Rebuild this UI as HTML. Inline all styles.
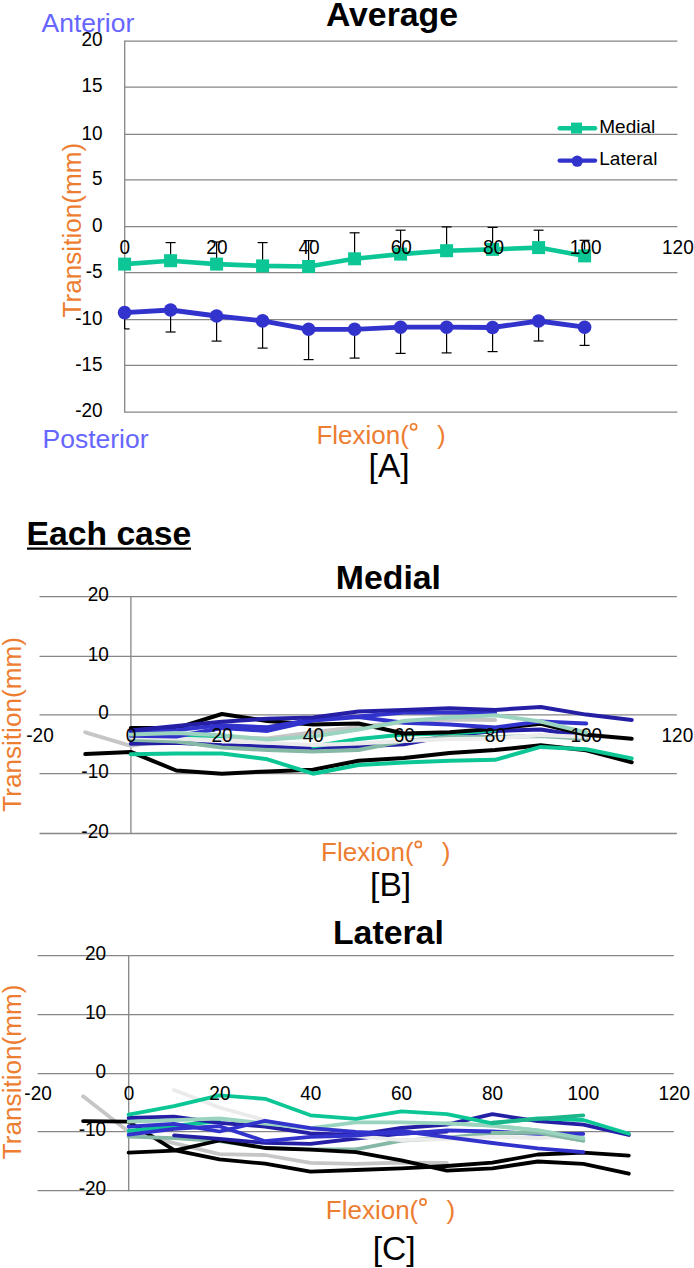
<!DOCTYPE html>
<html><head><meta charset="utf-8"><title>Figure</title>
<style>
html,body{margin:0;padding:0;background:#fff;}
body{width:694px;height:1268px;overflow:hidden;font-family:"Liberation Sans",sans-serif;}
svg{display:block;}
text{font-family:"Liberation Sans",sans-serif;}
</style></head><body>
<svg width="694" height="1268" viewBox="0 0 694 1268">
<rect x="0" y="0" width="694" height="1268" fill="#ffffff"/>
<line x1="124.7" y1="41.1" x2="677.4" y2="41.1" stroke="#868686" stroke-width="1.3"/>
<line x1="124.7" y1="87.1" x2="677.4" y2="87.1" stroke="#868686" stroke-width="1.3"/>
<line x1="124.7" y1="134.3" x2="677.4" y2="134.3" stroke="#868686" stroke-width="1.3"/>
<line x1="124.7" y1="179.9" x2="677.4" y2="179.9" stroke="#868686" stroke-width="1.3"/>
<line x1="124.7" y1="226.6" x2="677.4" y2="226.6" stroke="#868686" stroke-width="1.3"/>
<line x1="124.7" y1="272.6" x2="677.4" y2="272.6" stroke="#868686" stroke-width="1.3"/>
<line x1="124.7" y1="319.7" x2="677.4" y2="319.7" stroke="#868686" stroke-width="1.3"/>
<line x1="124.7" y1="365.4" x2="677.4" y2="365.4" stroke="#868686" stroke-width="1.3"/>
<line x1="124.7" y1="412.1" x2="677.4" y2="412.1" stroke="#868686" stroke-width="1.3"/>
<line x1="124.7" y1="40.5" x2="124.7" y2="412.70000000000005" stroke="#868686" stroke-width="1.3"/>
<text transform="translate(102.6 46.3) scale(1 1.075)" font-size="19" fill="#000" text-anchor="end">20</text>
<text transform="translate(102.6 92.3) scale(1 1.075)" font-size="19" fill="#000" text-anchor="end">15</text>
<text transform="translate(102.6 139.5) scale(1 1.075)" font-size="19" fill="#000" text-anchor="end">10</text>
<text transform="translate(102.6 185.1) scale(1 1.075)" font-size="19" fill="#000" text-anchor="end">5</text>
<text transform="translate(102.6 231.8) scale(1 1.075)" font-size="19" fill="#000" text-anchor="end">0</text>
<text transform="translate(102.6 277.8) scale(1 1.075)" font-size="19" fill="#000" text-anchor="end">-5</text>
<text transform="translate(102.6 324.9) scale(1 1.075)" font-size="19" fill="#000" text-anchor="end">-10</text>
<text transform="translate(102.6 370.6) scale(1 1.075)" font-size="19" fill="#000" text-anchor="end">-15</text>
<text transform="translate(102.6 417.3) scale(1 1.075)" font-size="19" fill="#000" text-anchor="end">-20</text>
<line x1="124.6" y1="312.6" x2="124.6" y2="328.9" stroke="#000" stroke-width="1.2"/>
<line x1="124.7" y1="328.9" x2="129.6" y2="328.9" stroke="#000" stroke-width="1.2"/>
<line x1="170.6" y1="260.7" x2="170.6" y2="242.6" stroke="#000" stroke-width="1.2"/>
<line x1="165.6" y1="242.6" x2="175.6" y2="242.6" stroke="#000" stroke-width="1.2"/>
<line x1="170.6" y1="310.0" x2="170.6" y2="332.0" stroke="#000" stroke-width="1.2"/>
<line x1="165.6" y1="332.0" x2="175.6" y2="332.0" stroke="#000" stroke-width="1.2"/>
<line x1="216.6" y1="264.1" x2="216.6" y2="242.0" stroke="#000" stroke-width="1.2"/>
<line x1="211.6" y1="242.0" x2="221.6" y2="242.0" stroke="#000" stroke-width="1.2"/>
<line x1="216.6" y1="316.0" x2="216.6" y2="341.1" stroke="#000" stroke-width="1.2"/>
<line x1="211.6" y1="341.1" x2="221.6" y2="341.1" stroke="#000" stroke-width="1.2"/>
<line x1="262.6" y1="265.9" x2="262.6" y2="242.6" stroke="#000" stroke-width="1.2"/>
<line x1="257.6" y1="242.6" x2="267.6" y2="242.6" stroke="#000" stroke-width="1.2"/>
<line x1="262.6" y1="320.9" x2="262.6" y2="348.1" stroke="#000" stroke-width="1.2"/>
<line x1="257.6" y1="348.1" x2="267.6" y2="348.1" stroke="#000" stroke-width="1.2"/>
<line x1="308.6" y1="266.5" x2="308.6" y2="240.6" stroke="#000" stroke-width="1.2"/>
<line x1="303.6" y1="240.6" x2="313.6" y2="240.6" stroke="#000" stroke-width="1.2"/>
<line x1="308.6" y1="329.3" x2="308.6" y2="359.6" stroke="#000" stroke-width="1.2"/>
<line x1="303.6" y1="359.6" x2="313.6" y2="359.6" stroke="#000" stroke-width="1.2"/>
<line x1="354.6" y1="258.8" x2="354.6" y2="232.8" stroke="#000" stroke-width="1.2"/>
<line x1="349.6" y1="232.8" x2="359.6" y2="232.8" stroke="#000" stroke-width="1.2"/>
<line x1="354.6" y1="329.3" x2="354.6" y2="358.1" stroke="#000" stroke-width="1.2"/>
<line x1="349.6" y1="358.1" x2="359.6" y2="358.1" stroke="#000" stroke-width="1.2"/>
<line x1="400.6" y1="254.1" x2="400.6" y2="230.2" stroke="#000" stroke-width="1.2"/>
<line x1="395.6" y1="230.2" x2="405.6" y2="230.2" stroke="#000" stroke-width="1.2"/>
<line x1="400.6" y1="327.2" x2="400.6" y2="353.4" stroke="#000" stroke-width="1.2"/>
<line x1="395.6" y1="353.4" x2="405.6" y2="353.4" stroke="#000" stroke-width="1.2"/>
<line x1="446.6" y1="250.7" x2="446.6" y2="226.9" stroke="#000" stroke-width="1.2"/>
<line x1="441.6" y1="226.9" x2="451.6" y2="226.9" stroke="#000" stroke-width="1.2"/>
<line x1="446.6" y1="327.2" x2="446.6" y2="352.9" stroke="#000" stroke-width="1.2"/>
<line x1="441.6" y1="352.9" x2="451.6" y2="352.9" stroke="#000" stroke-width="1.2"/>
<line x1="492.6" y1="249.4" x2="492.6" y2="227.4" stroke="#000" stroke-width="1.2"/>
<line x1="487.6" y1="227.4" x2="497.6" y2="227.4" stroke="#000" stroke-width="1.2"/>
<line x1="492.6" y1="327.5" x2="492.6" y2="351.6" stroke="#000" stroke-width="1.2"/>
<line x1="487.6" y1="351.6" x2="497.6" y2="351.6" stroke="#000" stroke-width="1.2"/>
<line x1="538.6" y1="247.6" x2="538.6" y2="230.2" stroke="#000" stroke-width="1.2"/>
<line x1="533.6" y1="230.2" x2="543.6" y2="230.2" stroke="#000" stroke-width="1.2"/>
<line x1="538.6" y1="321.0" x2="538.6" y2="341.0" stroke="#000" stroke-width="1.2"/>
<line x1="533.6" y1="341.0" x2="543.6" y2="341.0" stroke="#000" stroke-width="1.2"/>
<line x1="584.6" y1="255.9" x2="584.6" y2="240.3" stroke="#000" stroke-width="1.2"/>
<line x1="579.6" y1="240.3" x2="589.6" y2="240.3" stroke="#000" stroke-width="1.2"/>
<line x1="584.6" y1="327.2" x2="584.6" y2="345.4" stroke="#000" stroke-width="1.2"/>
<line x1="579.6" y1="345.4" x2="589.6" y2="345.4" stroke="#000" stroke-width="1.2"/>
<polyline points="124.6,264.1 170.6,260.7 216.6,264.1 262.6,265.9 308.6,266.5 354.6,258.8 400.6,254.1 446.6,250.7 492.6,249.4 538.6,247.6 584.6,255.9" fill="none" stroke="#0CC795" stroke-width="4.6" stroke-linejoin="round" stroke-linecap="round"/>
<rect x="118.1" y="257.6" width="13" height="13" fill="#0CC795"/>
<rect x="164.1" y="254.2" width="13" height="13" fill="#0CC795"/>
<rect x="210.1" y="257.6" width="13" height="13" fill="#0CC795"/>
<rect x="256.1" y="259.4" width="13" height="13" fill="#0CC795"/>
<rect x="302.1" y="260.0" width="13" height="13" fill="#0CC795"/>
<rect x="348.1" y="252.3" width="13" height="13" fill="#0CC795"/>
<rect x="394.1" y="247.6" width="13" height="13" fill="#0CC795"/>
<rect x="440.1" y="244.2" width="13" height="13" fill="#0CC795"/>
<rect x="486.1" y="242.9" width="13" height="13" fill="#0CC795"/>
<rect x="532.1" y="241.1" width="13" height="13" fill="#0CC795"/>
<rect x="578.1" y="249.4" width="13" height="13" fill="#0CC795"/>
<polyline points="124.6,312.6 170.6,310.0 216.6,316.0 262.6,320.9 308.6,329.3 354.6,329.3 400.6,327.2 446.6,327.2 492.6,327.5 538.6,321.0 584.6,327.2" fill="none" stroke="#3232CC" stroke-width="4.8" stroke-linejoin="round" stroke-linecap="round"/>
<circle cx="124.6" cy="312.6" r="6.8" fill="#3232CC"/>
<circle cx="170.6" cy="310.0" r="6.8" fill="#3232CC"/>
<circle cx="216.6" cy="316.0" r="6.8" fill="#3232CC"/>
<circle cx="262.6" cy="320.9" r="6.8" fill="#3232CC"/>
<circle cx="308.6" cy="329.3" r="6.8" fill="#3232CC"/>
<circle cx="354.6" cy="329.3" r="6.8" fill="#3232CC"/>
<circle cx="400.6" cy="327.2" r="6.8" fill="#3232CC"/>
<circle cx="446.6" cy="327.2" r="6.8" fill="#3232CC"/>
<circle cx="492.6" cy="327.5" r="6.8" fill="#3232CC"/>
<circle cx="538.6" cy="321.0" r="6.8" fill="#3232CC"/>
<circle cx="584.6" cy="327.2" r="6.8" fill="#3232CC"/>
<text transform="translate(124.7 253.9) scale(1 1.075)" font-size="19" fill="#000" text-anchor="middle">0</text>
<text transform="translate(216.9 253.9) scale(1 1.075)" font-size="19" fill="#000" text-anchor="middle">20</text>
<text transform="translate(309.1 253.9) scale(1 1.075)" font-size="19" fill="#000" text-anchor="middle">40</text>
<text transform="translate(401.3 253.9) scale(1 1.075)" font-size="19" fill="#000" text-anchor="middle">60</text>
<text transform="translate(493.5 253.9) scale(1 1.075)" font-size="19" fill="#000" text-anchor="middle">80</text>
<text transform="translate(585.7 253.9) scale(1 1.075)" font-size="19" fill="#000" text-anchor="middle">100</text>
<text transform="translate(677.9 253.9) scale(1 1.075)" font-size="19" fill="#000" text-anchor="middle">120</text>
<line x1="559.7" y1="128.2" x2="595.0" y2="128.2" stroke="#0CC795" stroke-width="4.4" stroke-linecap="round"/>
<rect x="571" y="122.6" width="11" height="11" fill="#0CC795"/>
<text x="599.3" y="132.8" font-size="19" fill="#000" text-anchor="start" font-weight="normal" >Medial</text>
<line x1="559.7" y1="160.6" x2="595.0" y2="160.6" stroke="#3232CC" stroke-width="4.4" stroke-linecap="round"/>
<circle cx="577.2" cy="161.2" r="5.6" fill="#3232CC"/>
<text x="599.3" y="165.0" font-size="19" fill="#000" text-anchor="start" font-weight="normal" >Lateral</text>
<text x="392" y="25.6" font-size="33.8" fill="#000" text-anchor="middle" font-weight="bold" >Average</text>
<text x="41.5" y="32.2" font-size="26.5" fill="#6666FF" text-anchor="start" font-weight="normal" >Anterior</text>
<text x="42.5" y="447.6" font-size="26.5" fill="#6666FF" text-anchor="start" font-weight="normal" >Posterior</text>
<text x="81.2" y="317.5" font-size="26.15" fill="#ED7D31" text-anchor="start" font-weight="normal" transform="rotate(-90 81.2 317.5)">Transition(mm)</text>
<text x="316.4" y="443.7" font-size="26" fill="#ED7D31" text-anchor="start" font-weight="normal" >Flexion(</text>
<circle cx="413.6" cy="426.8" r="3.05" fill="none" stroke="#ED7D31" stroke-width="1.7"/>
<text x="437.0" y="443.7" font-size="26" fill="#ED7D31" text-anchor="start" font-weight="normal" >)</text>
<text x="389.1" y="476.6" font-size="33.6" fill="#000" text-anchor="middle" font-weight="normal" >[A]</text>
<text x="26.5" y="545" font-size="33.7" fill="#000" text-anchor="start" font-weight="bold" >Each case</text>
<line x1="27" y1="548.6" x2="191" y2="548.6" stroke="#000" stroke-width="2.4"/>
<line x1="39.5" y1="596.7" x2="676.9" y2="596.7" stroke="#868686" stroke-width="1.3"/>
<line x1="39.5" y1="656.4" x2="676.9" y2="656.4" stroke="#868686" stroke-width="1.3"/>
<line x1="39.5" y1="714.8" x2="676.9" y2="714.8" stroke="#868686" stroke-width="1.3"/>
<line x1="39.5" y1="773.6" x2="676.9" y2="773.6" stroke="#868686" stroke-width="1.3"/>
<line x1="39.5" y1="833.5" x2="676.9" y2="833.5" stroke="#868686" stroke-width="1.3"/>
<line x1="130.9" y1="596.1" x2="130.9" y2="834.1" stroke="#868686" stroke-width="1.3"/>
<text transform="translate(108.8 600.9) scale(1 1.075)" font-size="19" fill="#000" text-anchor="end">20</text>
<text transform="translate(108.8 660.6) scale(1 1.075)" font-size="19" fill="#000" text-anchor="end">10</text>
<text transform="translate(108.8 719.0) scale(1 1.075)" font-size="19" fill="#000" text-anchor="end">0</text>
<text transform="translate(108.8 777.8) scale(1 1.075)" font-size="19" fill="#000" text-anchor="end">-10</text>
<text transform="translate(108.8 837.7) scale(1 1.075)" font-size="19" fill="#000" text-anchor="end">-20</text>
<polyline points="85.3,732.3 130.8,745.8 176.3,738.2 221.9,737.0 267.4,738.5 313.0,732.2 358.5,727.0 404.0,722.0 449.6,719.5 495.1,720.0" fill="none" stroke="#C6C6C6" stroke-width="4.0" stroke-linejoin="round" stroke-linecap="round"/>
<polyline points="85.3,754.1 130.8,751.9 176.3,770.5 221.9,773.7 267.4,771.4 313.0,769.7 358.5,760.7 404.0,758.1 449.6,752.9 495.1,750.0 540.7,745.3 586.2,750.3 631.7,762.3" fill="none" stroke="#000000" stroke-width="4.0" stroke-linejoin="round" stroke-linecap="round"/>
<polyline points="130.8,754.3 176.3,753.6 221.9,753.5 267.4,759.3 313.0,773.7 358.5,765.0 404.0,762.4 449.6,760.7 495.1,759.8 540.7,746.9 586.2,749.2 631.7,758.4" fill="none" stroke="#0CC795" stroke-width="4.0" stroke-linejoin="round" stroke-linecap="round"/>
<polyline points="130.8,743.7 176.3,742.7 221.9,745.3 267.4,746.5 313.0,748.0 358.5,746.5 404.0,744.3 449.6,735.5 495.1,731.0 540.7,729.6 586.2,736.5" fill="none" stroke="#251FA6" stroke-width="4.0" stroke-linejoin="round" stroke-linecap="round"/>
<polyline points="130.8,740.0 176.3,735.5 221.9,736.0" fill="none" stroke="#0CC795" stroke-width="4.0" stroke-linejoin="round" stroke-linecap="round"/>
<polyline points="313.0,746.5 358.5,739.0 404.0,734.6 449.6,733.4 495.1,730.5" fill="none" stroke="#0CC795" stroke-width="4.0" stroke-linejoin="round" stroke-linecap="round"/>
<polyline points="130.8,739.7 176.3,741.5 221.9,747.5 267.4,750.0 313.0,751.5 358.5,750.0 404.0,741.0 449.6,737.0 495.1,737.0 540.7,736.0 586.2,738.8" fill="none" stroke="#86B8A6" stroke-width="4.0" stroke-linejoin="round" stroke-linecap="round"/>
<polyline points="130.8,737.0 176.3,738.5 221.9,740.3 267.4,742.8 313.0,745.1 358.5,743.4 404.0,741.0 449.6,739.0 495.1,738.5 540.7,735.0 586.2,737.0" fill="none" stroke="#EBEBEB" stroke-width="4.0" stroke-linejoin="round" stroke-linecap="round"/>
<polyline points="130.8,728.1 176.3,728.1 221.9,714.0 267.4,720.9 313.0,724.4 358.5,723.5 404.0,733.5 449.6,732.2 495.1,728.7 540.7,723.8 586.2,734.7 631.7,738.8" fill="none" stroke="#000000" stroke-width="4.0" stroke-linejoin="round" stroke-linecap="round"/>
<polyline points="130.8,735.7 176.3,736.5 221.9,728.0 267.4,730.9 313.0,720.5 358.5,717.0 404.0,722.7 449.6,724.4 495.1,727.5 540.7,721.5 586.2,723.4" fill="none" stroke="#3232CC" stroke-width="4.0" stroke-linejoin="round" stroke-linecap="round"/>
<polyline points="130.8,731.5 176.3,730.1 221.9,725.2 267.4,727.3 313.0,719.5 358.5,716.6 404.0,712.5 449.6,712.5 495.1,712.5" fill="none" stroke="#3232CC" stroke-width="4.0" stroke-linejoin="round" stroke-linecap="round"/>
<polyline points="130.8,734.6 176.3,733.1 221.9,735.3 267.4,739.6 313.0,736.5 358.5,729.6 404.0,721.0 449.6,717.5 495.1,715.2 540.7,721.5 586.2,732.5" fill="none" stroke="#9AD4BF" stroke-width="4.0" stroke-linejoin="round" stroke-linecap="round"/>
<polyline points="130.8,730.6 176.3,726.1 221.9,721.8 267.4,718.7 313.0,717.5 358.5,711.6 404.0,709.9 449.6,708.2 495.1,709.9 540.7,707.0 586.2,714.6 631.7,719.9" fill="none" stroke="#251FA6" stroke-width="4.0" stroke-linejoin="round" stroke-linecap="round"/>
<text transform="translate(40.0 742.3) scale(1 1.075)" font-size="19" fill="#000" text-anchor="middle">-20</text>
<text transform="translate(131.1 742.3) scale(1 1.075)" font-size="19" fill="#000" text-anchor="middle">0</text>
<text transform="translate(222.1 742.3) scale(1 1.075)" font-size="19" fill="#000" text-anchor="middle">20</text>
<text transform="translate(313.2 742.3) scale(1 1.075)" font-size="19" fill="#000" text-anchor="middle">40</text>
<text transform="translate(404.2 742.3) scale(1 1.075)" font-size="19" fill="#000" text-anchor="middle">60</text>
<text transform="translate(495.3 742.3) scale(1 1.075)" font-size="19" fill="#000" text-anchor="middle">80</text>
<text transform="translate(586.3 742.3) scale(1 1.075)" font-size="19" fill="#000" text-anchor="middle">100</text>
<text transform="translate(677.4 742.3) scale(1 1.075)" font-size="19" fill="#000" text-anchor="middle">120</text>
<text x="388.4" y="588.6" font-size="33.8" fill="#000" text-anchor="middle" font-weight="bold" >Medial</text>
<text x="321.1" y="861.3" font-size="26" fill="#ED7D31" text-anchor="start" font-weight="normal" >Flexion(</text>
<circle cx="418.3" cy="844.4" r="3.05" fill="none" stroke="#ED7D31" stroke-width="1.7"/>
<text x="441.7" y="861.3" font-size="26" fill="#ED7D31" text-anchor="start" font-weight="normal" >)</text>
<text x="390.6" y="896.0" font-size="33.6" fill="#000" text-anchor="middle" font-weight="normal" >[B]</text>
<text x="20.7" y="811.8" font-size="26.15" fill="#ED7D31" text-anchor="start" font-weight="normal" transform="rotate(-90 20.7 811.8)">Transition(mm)</text>
<line x1="37.6" y1="955.7" x2="673.8" y2="955.7" stroke="#868686" stroke-width="1.3"/>
<line x1="37.6" y1="1014.7" x2="673.8" y2="1014.7" stroke="#868686" stroke-width="1.3"/>
<line x1="37.6" y1="1073.6" x2="673.8" y2="1073.6" stroke="#868686" stroke-width="1.3"/>
<line x1="37.6" y1="1131.6" x2="673.8" y2="1131.6" stroke="#868686" stroke-width="1.3"/>
<line x1="37.6" y1="1190.6" x2="673.8" y2="1190.6" stroke="#868686" stroke-width="1.3"/>
<line x1="128.7" y1="955.1" x2="128.7" y2="1191.1999999999998" stroke="#868686" stroke-width="1.3"/>
<text transform="translate(106.1 959.7) scale(1 1.075)" font-size="19" fill="#000" text-anchor="end">20</text>
<text transform="translate(106.1 1018.7) scale(1 1.075)" font-size="19" fill="#000" text-anchor="end">10</text>
<text transform="translate(106.1 1077.6) scale(1 1.075)" font-size="19" fill="#000" text-anchor="end">0</text>
<text transform="translate(106.1 1135.6) scale(1 1.075)" font-size="19" fill="#000" text-anchor="end">-10</text>
<text transform="translate(106.1 1194.6) scale(1 1.075)" font-size="19" fill="#000" text-anchor="end">-20</text>
<polyline points="83.1,1096.3 128.6,1131.7 174.1,1143.2 219.5,1154.2 265.0,1155.0 310.5,1162.8 355.9,1163.8 401.4,1162.6 446.9,1163.0" fill="none" stroke="#C6C6C6" stroke-width="3.8" stroke-linejoin="round" stroke-linecap="round"/>
<polyline points="83.1,1121.1 128.6,1121.7 174.1,1150.2 219.5,1159.3 265.0,1163.7 310.5,1171.6 355.9,1170.0 401.4,1168.4 446.9,1166.0 492.4,1162.6 537.8,1154.5 583.3,1152.7 628.8,1155.7" fill="none" stroke="#000000" stroke-width="3.8" stroke-linejoin="round" stroke-linecap="round"/>
<polyline points="128.6,1136.7 174.1,1138.2 219.5,1141.0 265.0,1147.8 310.5,1149.4 355.9,1149.4 401.4,1140.7 446.9,1138.0 492.4,1133.0 537.8,1132.6 583.3,1140.7" fill="none" stroke="#86B8A6" stroke-width="3.8" stroke-linejoin="round" stroke-linecap="round"/>
<polyline points="128.6,1152.6 174.1,1150.6 219.5,1140.5 265.0,1148.0 310.5,1149.6 355.9,1152.2 401.4,1160.3 446.9,1170.7 492.4,1168.4 537.8,1161.5 583.3,1163.8 628.8,1173.7" fill="none" stroke="#000000" stroke-width="3.8" stroke-linejoin="round" stroke-linecap="round"/>
<polyline points="128.6,1131.0 174.1,1125.9 219.5,1121.0" fill="none" stroke="#0CC795" stroke-width="3.8" stroke-linejoin="round" stroke-linecap="round"/>
<polyline points="174.1,1135.3 219.5,1138.9 265.0,1142.9 310.5,1143.8 355.9,1138.5 401.4,1133.5 446.9,1131.5" fill="none" stroke="#251FA6" stroke-width="3.8" stroke-linejoin="round" stroke-linecap="round"/>
<polyline points="174.1,1090.0 219.5,1107.5 265.0,1120.4 310.5,1130.8 355.9,1136.0 401.4,1140.2 446.9,1139.0 492.4,1136.8 537.8,1138.0 583.3,1135.4" fill="none" stroke="#EBEBEB" stroke-width="3.8" stroke-linejoin="round" stroke-linecap="round"/>
<polyline points="128.6,1118.0 174.1,1116.6 219.5,1122.8 265.0,1126.5 310.5,1133.4 355.9,1135.0 401.4,1128.0 446.9,1124.6 492.4,1114.2 537.8,1121.1 583.3,1124.6 628.8,1135.0" fill="none" stroke="#251FA6" stroke-width="3.8" stroke-linejoin="round" stroke-linecap="round"/>
<polyline points="128.6,1121.6 174.1,1120.2 219.5,1118.5 265.0,1123.5 310.5,1128.2 355.9,1122.3 401.4,1122.3 446.9,1123.4 492.4,1125.7 537.8,1130.3 583.3,1138.4" fill="none" stroke="#9AD4BF" stroke-width="3.8" stroke-linejoin="round" stroke-linecap="round"/>
<polyline points="128.6,1134.6 174.1,1128.8 219.5,1126.2 265.0,1141.2 310.5,1136.9 355.9,1135.5 401.4,1131.0 446.9,1137.2 492.4,1143.0 537.8,1148.3 583.3,1152.2" fill="none" stroke="#3232CC" stroke-width="3.8" stroke-linejoin="round" stroke-linecap="round"/>
<polyline points="128.6,1126.7 174.1,1123.8 219.5,1131.5 265.0,1120.8 310.5,1128.2 355.9,1132.0 401.4,1133.8 446.9,1130.3 492.4,1131.5 537.8,1133.8 583.3,1133.8" fill="none" stroke="#3232CC" stroke-width="3.8" stroke-linejoin="round" stroke-linecap="round"/>
<polyline points="492.4,1133.0 537.8,1132.6 583.3,1140.7" fill="none" stroke="#86B8A6" stroke-width="3.8" stroke-linejoin="round" stroke-linecap="round"/>
<polyline points="446.9,1123.4 492.4,1125.7 537.8,1130.3 583.3,1138.4" fill="none" stroke="#9AD4BF" stroke-width="3.8" stroke-linejoin="round" stroke-linecap="round"/>
<polyline points="128.6,1114.6 174.1,1106.1 219.5,1095.4 265.0,1098.8 310.5,1115.3 355.9,1118.8 401.4,1111.4 446.9,1114.2 492.4,1123.4 537.8,1118.3 583.3,1120.0 628.8,1133.8" fill="none" stroke="#0CC795" stroke-width="3.8" stroke-linejoin="round" stroke-linecap="round"/>
<polyline points="492.4,1122.6 537.8,1118.8 583.3,1115.3" fill="none" stroke="#1DB58A" stroke-width="3.8" stroke-linejoin="round" stroke-linecap="round"/>
<text transform="translate(38.1 1099.8) scale(1 1.075)" font-size="19" fill="#000" text-anchor="middle">-20</text>
<text transform="translate(129.0 1099.8) scale(1 1.075)" font-size="19" fill="#000" text-anchor="middle">0</text>
<text transform="translate(219.9 1099.8) scale(1 1.075)" font-size="19" fill="#000" text-anchor="middle">20</text>
<text transform="translate(310.8 1099.8) scale(1 1.075)" font-size="19" fill="#000" text-anchor="middle">40</text>
<text transform="translate(401.6 1099.8) scale(1 1.075)" font-size="19" fill="#000" text-anchor="middle">60</text>
<text transform="translate(492.5 1099.8) scale(1 1.075)" font-size="19" fill="#000" text-anchor="middle">80</text>
<text transform="translate(583.4 1099.8) scale(1 1.075)" font-size="19" fill="#000" text-anchor="middle">100</text>
<text transform="translate(674.3 1099.8) scale(1 1.075)" font-size="19" fill="#000" text-anchor="middle">120</text>
<text x="388.4" y="944.1" font-size="33.8" fill="#000" text-anchor="middle" font-weight="bold" >Lateral</text>
<text x="325.8" y="1218.9" font-size="26" fill="#ED7D31" text-anchor="start" font-weight="normal" >Flexion(</text>
<circle cx="423.0" cy="1202.0" r="3.05" fill="none" stroke="#ED7D31" stroke-width="1.7"/>
<text x="446.4" y="1218.9" font-size="26" fill="#ED7D31" text-anchor="start" font-weight="normal" >)</text>
<text x="394.2" y="1259.9" font-size="33.6" fill="#000" text-anchor="middle" font-weight="normal" >[C]</text>
<text x="20.7" y="1159.2" font-size="26.15" fill="#ED7D31" text-anchor="start" font-weight="normal" transform="rotate(-90 20.7 1159.2)">Transition(mm)</text>
</svg>
</body></html>
